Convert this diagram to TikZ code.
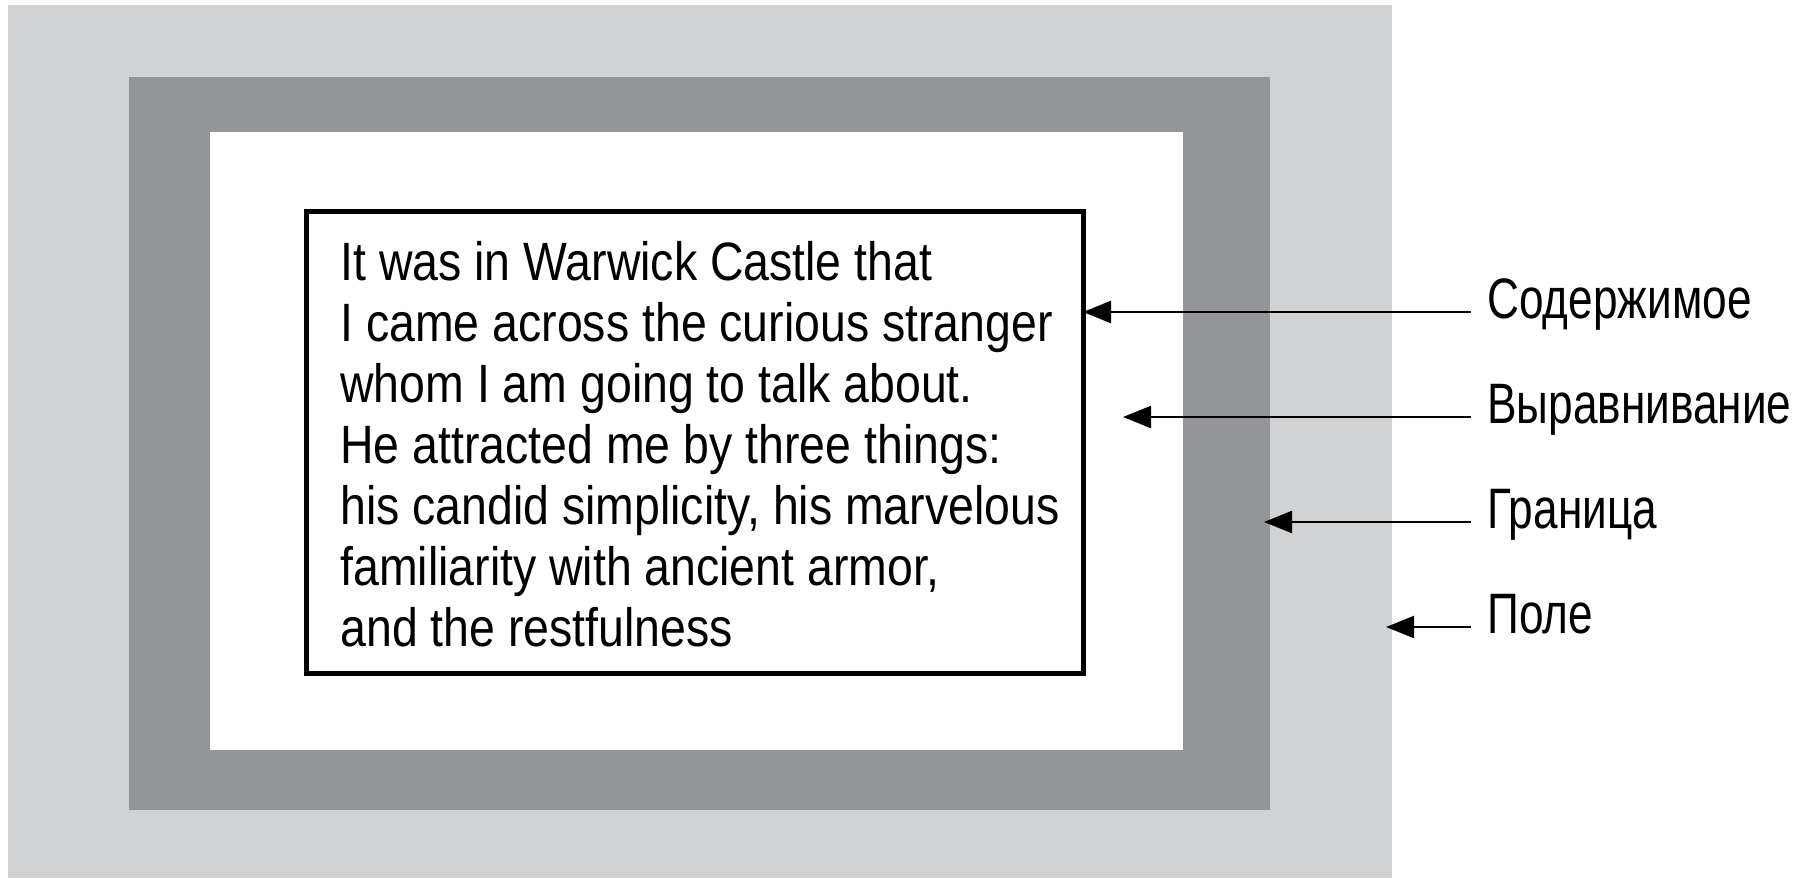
\documentclass[tikz,border=0pt]{standalone}
\usepackage{fontspec}
\usetikzlibrary{arrows.meta}
\newfontfamily\bodyfont{Liberation Sans}[FakeStretch=0.86]
\newfontfamily\calloutfont{Liberation Sans}[FakeStretch=0.775]
\definecolor{marginfill}{HTML}{D1D2D4}
\definecolor{borderfill}{HTML}{939598}

\begin{document}
\begin{tikzpicture}[x=0.5pt,y=-0.5pt,
  pointer/.style={line width=1.1pt,shorten <=8pt,-{Triangle[length=14pt,width=11pt]}},
  callout/.style={font={\calloutfont\fontsize{28.5}{32}\selectfont},anchor=west,inner sep=0pt,
    text height=0.75em,text depth=0.12em}]
\useasboundingbox (0,0) rectangle (1798,878);

% margin, border and padding areas
\fill[marginfill] (8,5) rectangle (1392,878);
\fill[borderfill] (129,77) rectangle (1270,810);
\fill[white] (210,132) rectangle (1183,750);

% content box
\node[draw,line width=2.5pt,minimum width=388.5pt,minimum height=231pt,inner sep=0pt,anchor=north west]
  (content) at (304,209) {};
% the paragraph, placed by the baseline of its last line
\node[anchor=base west,align=left,inner sep=0pt,font={\bodyfont\fontsize{27}{30.5}\selectfont}]
  (para) at (340,646) {It was in Warwick Castle that\\
I came across the curious stranger\\
whom I am going to talk about.\\
He attracted me by three things:\\
his candid simplicity, his marvelous\\
familiarity with ancient armor,\\
and the restfulness};

% arrow targets
\coordinate (tcontent) at (1083,312);
\coordinate (tpadding) at (1123,417);
\coordinate (tborder) at (1264,522);
\coordinate (tmargin) at (1386,627);

% callouts
\node[callout] (lcontent) at (1487,312) {Содержимое};
\node[callout] (lpadding) at (1487,417) {Выравнивание};
\node[callout] (lborder) at (1487,522) {Граница};
\node[callout] (lmargin) at (1487,627) {Поле};

\draw[pointer] (lcontent.west) -- (tcontent);
\draw[pointer] (lpadding.west) -- (tpadding);
\draw[pointer] (lborder.west) -- (tborder);
\draw[pointer] (lmargin.west) -- (tmargin);
\end{tikzpicture}
\end{document}
